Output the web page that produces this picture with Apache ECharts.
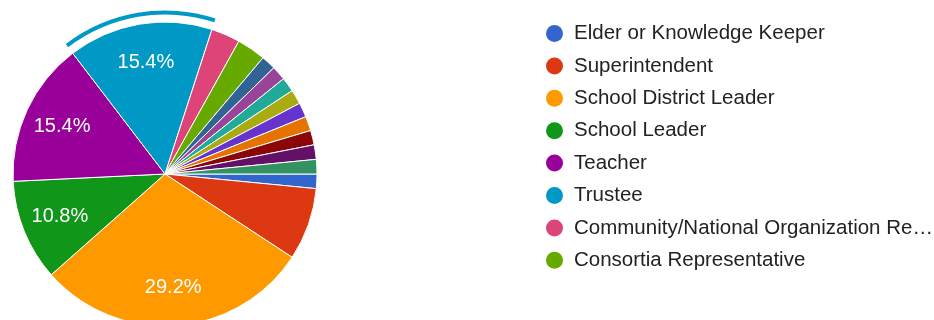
<!DOCTYPE html>
<html>
<head>
<meta charset="utf-8">
<script src="https://cdn.jsdelivr.net/npm/echarts@6/dist/echarts.min.js"></script>
<style>
  html, body { margin: 0; padding: 0; background: #fff; }
  #chart { width: 934px; height: 320px; }
</style>
</head>
<body>
<div id="chart"></div>
<script>
// Respondent roles and number of responses per role
const categories = [
  'Elder or Knowledge Keeper',
  'Superintendent',
  'School District Leader',
  'School Leader',
  'Teacher',
  'Trustee',
  'Community/National Organization Representative',
  'Consortia Representative',
  'Other role 1',
  'Other role 2',
  'Other role 3',
  'Other role 4',
  'Other role 5',
  'Other role 6',
  'Other role 7',
  'Other role 8',
  'Other role 9'
];
const counts = [1, 5, 19, 7, 10, 10, 2, 2, 1, 1, 1, 1, 1, 1, 1, 1, 1];

// First page of the legend
const legendNames = categories.slice(0, 8);
// Slice currently highlighted with an outer ring
const highlighted = 'Trustee';

const palette = [
  '#3366cc', '#dc3912', '#ff9900', '#109618', '#990099', '#0099c6',
  '#dd4477', '#66aa00', '#316395', '#994499', '#22aa99', '#aaaa11',
  '#6633cc', '#e67300', '#8b0707', '#651067', '#329262'
];

const pieData = categories.map((name, i) => ({ name: name, value: counts[i] }));
const FONT = 'Arial, "Liberation Sans", sans-serif';
const CENTER = [165, 174];

const chart = echarts.init(document.getElementById('chart'), null, { renderer: 'canvas' });
chart.setOption({
  animation: false,
  color: palette,
  legend: {
    orient: 'vertical',
    left: 546,
    top: 23,
    padding: 0,
    data: legendNames,
    icon: 'circle',
    itemWidth: 29,
    itemHeight: 17,
    itemGap: 11.4,
    itemStyle: { borderWidth: 0 },
    selectedMode: false,
    textStyle: {
      fontFamily: FONT,
      fontSize: 20.5,
      lineHeight: 21,
      color: '#222',
      width: 368,
      overflow: 'truncate',
      ellipsis: '…',
      padding: [0, 0, 0, 0]
    }
  },
  series: [
    {
      // main pie
      type: 'pie',
      center: CENTER,
      radius: [0, 152],
      startAngle: 0,
      clockwise: true,
      avoidLabelOverlap: false,
      silent: true,
      itemStyle: { borderColor: '#fff', borderWidth: 1 },
      label: { show: false },
      labelLine: { show: false },
      data: pieData
    },
    {
      // outer ring marking the highlighted slice
      type: 'pie',
      center: CENTER,
      radius: [159.5, 163.5],
      startAngle: 0,
      clockwise: true,
      silent: true,
      label: { show: false },
      labelLine: { show: false },
      data: pieData.map((d, i) => ({
        name: d.name,
        value: d.value,
        itemStyle: { color: d.name === highlighted ? palette[i] : 'rgba(0,0,0,0)', borderWidth: 0 }
      }))
    },
    {
      // percentage labels for the larger slices
      type: 'pie',
      center: CENTER,
      radius: [69, 152],
      startAngle: 0,
      clockwise: true,
      silent: true,
      percentPrecision: 1,
      avoidLabelOverlap: false,
      itemStyle: { color: 'rgba(0,0,0,0)', borderWidth: 0 },
      label: {
        show: true,
        position: 'inside',
        color: '#fff',
        fontFamily: FONT,
        fontSize: 20,
        formatter: p => (p.percent >= 10 ? p.percent.toFixed(1) + '%' : '')
      },
      labelLine: { show: false },
      data: pieData
    }
  ]
});
</script>
</body>
</html>
